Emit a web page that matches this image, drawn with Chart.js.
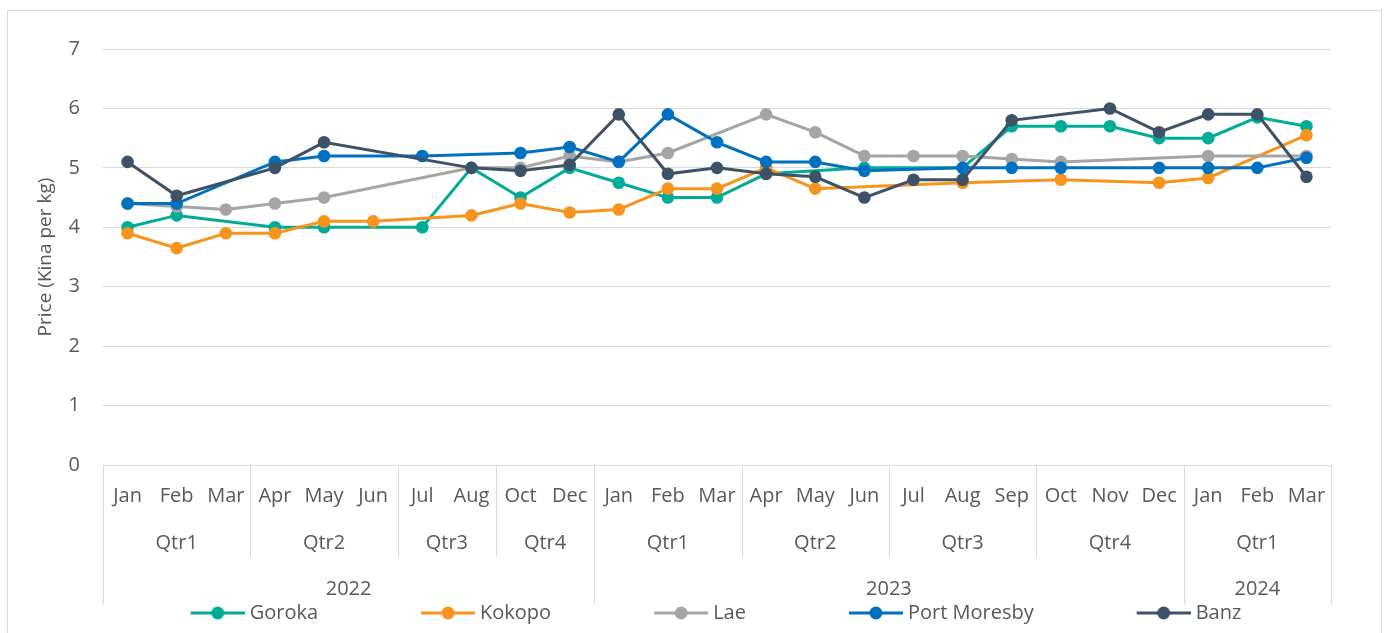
<!DOCTYPE html>
<html>
<head>
<meta charset="utf-8">
<script src="https://cdn.jsdelivr.net/npm/chart.js@4.4.1/dist/chart.umd.min.js"></script>
<style>
  html, body { margin: 0; padding: 0; background: #ffffff; }
  #wrap { position: relative; width: 1387px; height: 633px; }
</style>
</head>
<body>
<div id="wrap"><canvas id="c" width="1387" height="633"></canvas></div>
<script>
// ---- data ----
const months = ['Jan','Feb','Mar','Apr','May','Jun','Jul','Aug','Oct','Dec',
                'Jan','Feb','Mar','Apr','May','Jun','Jul','Aug','Sep','Oct','Nov','Dec',
                'Jan','Feb','Mar'];
const quarterLabels = ['Qtr1','Qtr2','Qtr3','Qtr4','Qtr1','Qtr2','Qtr3','Qtr4','Qtr1'];
const quarterSpans  = [3,3,2,2,3,3,3,3,3];
const yearLabels = ['2022','2023','2024'];
const yearSpans  = [10,12,3];
const yTicks = [0,1,2,3,4,5,6,7];

const seriesNames = ['Goroka','Kokopo','Lae','Port Moresby','Banz'];
const goroka      = [4.0,4.2,null,4.0,4.0,null,4.0,5.0,4.5,5.0, 4.75,4.5,4.5,4.9,null,5.0,null,5.0,5.7,5.7,5.7,5.5, 5.5,5.85,5.7];
const kokopo      = [3.9,3.65,3.9,3.9,4.1,4.1,null,4.2,4.4,4.25, 4.3,4.65,4.65,5.0,4.65,null,null,4.75,null,4.8,null,4.75, 4.83,null,5.55];
const lae         = [4.4,4.35,4.3,4.4,4.5,null,null,5.0,5.0,5.2, 5.1,5.25,null,5.9,5.6,5.2,5.2,5.2,5.15,5.1,null,null, 5.2,null,5.2];
const portMoresby = [4.4,4.4,null,5.1,5.2,null,5.2,null,5.25,5.35, 5.1,5.9,5.43,5.1,5.1,4.95,null,5.0,5.0,5.0,null,5.0, 5.0,5.0,5.17];
const banz        = [5.1,4.53,null,5.0,5.43,null,null,5.0,4.95,5.05, 5.9,4.9,5.0,4.9,4.85,4.5,4.8,4.8,5.8,null,6.0,5.6, 5.9,5.9,4.85];
const seriesColors = ['#00AC97','#F7941D','#A5A5A5','#0070C0','#3D5266'];
const allSeries = [goroka, kokopo, lae, portMoresby, banz];

// ---- styling ----
const FONT = "'Open Sans', 'Noto Sans', sans-serif";
const TXT = '#595959';
const GRID = '#d9d9d9';
const FS = 20;

function legendSymbol(color) {
  const c = document.createElement('canvas');
  c.width = 160; c.height = 16;
  const g = c.getContext('2d');
  g.strokeStyle = color; g.lineWidth = 3;
  g.beginPath(); g.moveTo(106, 8); g.lineTo(160, 8); g.stroke();
  g.fillStyle = color;
  g.beginPath(); g.arc(133, 8, 6.5, 0, Math.PI * 2); g.fill();
  return c;
}
const symbols = seriesColors.map(legendSymbol);

const frame = {
  id: 'frame',
  beforeDraw(chart) {
    const ctx = chart.ctx;
    ctx.save();
    ctx.fillStyle = '#ffffff';
    ctx.fillRect(0, 0, chart.width, chart.height);
    ctx.strokeStyle = GRID; ctx.lineWidth = 1;
    ctx.strokeRect(7.5, 10.5, 1374, 640);
    ctx.restore();
  }
};

const hierAxis = {
  id: 'hierAxis',
  afterDraw(chart) {
    const x = chart.scales.x, ctx = chart.ctx;
    const top = x.top;
    const edge = i => Math.round(x.getPixelForValue(i - 0.5)) + 0.5;
    ctx.save();
    ctx.strokeStyle = GRID; ctx.lineWidth = 1;
    let idx = 0;
    const qCenters = [];
    quarterSpans.forEach(s => {
      qCenters.push((x.getPixelForValue(idx - 0.5) + x.getPixelForValue(idx + s - 0.5)) / 2);
      idx += s;
      if (idx < months.length) { ctx.beginPath(); ctx.moveTo(edge(idx), top); ctx.lineTo(edge(idx), top + 92); ctx.stroke(); }
    });
    idx = 0;
    const yCenters = [];
    ctx.beginPath(); ctx.moveTo(edge(0), top); ctx.lineTo(edge(0), top + 139); ctx.stroke();
    yearSpans.forEach(s => {
      yCenters.push((x.getPixelForValue(idx - 0.5) + x.getPixelForValue(idx + s - 0.5)) / 2);
      idx += s;
      ctx.beginPath(); ctx.moveTo(edge(idx), top); ctx.lineTo(edge(idx), top + 139); ctx.stroke();
    });
    ctx.fillStyle = TXT;
    ctx.font = FS + 'px ' + FONT;
    ctx.textAlign = 'center'; ctx.textBaseline = 'middle';
    quarterLabels.forEach((t, i) => ctx.fillText(t, qCenters[i], top + 78));
    yearLabels.forEach((t, i) => ctx.fillText(t, yCenters[i], top + 124));
    ctx.restore();
  }
};

new Chart(document.getElementById('c'), {
  type: 'line',
  data: {
    labels: months,
    datasets: allSeries.map((d, i) => ({
      label: seriesNames[i],
      data: d,
      borderColor: seriesColors[i],
      backgroundColor: seriesColors[i],
      pointBackgroundColor: seriesColors[i],
      pointBorderColor: seriesColors[i],
      borderWidth: 3,
      pointRadius: 6.3,
      pointBorderWidth: 0,
      pointHoverRadius: 6.3,
      tension: 0,
      spanGaps: true,
      fill: false,
      order: allSeries.length - i
    }))
  },
  options: {
    responsive: false,
    animation: false,
    events: [],
    layout: { padding: { top: 49, right: 56, bottom: 0, left: 0 } },
    plugins: {
      tooltip: { enabled: false },
      legend: {
        position: 'bottom',
        labels: {
          usePointStyle: true,
          pointStyleWidth: 150,
          padding: 2,
          color: TXT,
          font: { family: FONT, size: FS },
          generateLabels(chart) {
            return chart.data.datasets.map((ds, i) => ({
              text: ds.label,
              datasetIndex: i,
              pointStyle: symbols[i],
              fillStyle: ds.borderColor,
              strokeStyle: ds.borderColor,
              lineWidth: 0,
              hidden: false,
              fontColor: TXT
            }));
          }
        }
      }
    },
    scales: {
      x: {
        type: 'category',
        offset: true,
        grid: { display: false, drawTicks: false },
        border: { display: false },
        ticks: { autoSkip: false, maxRotation: 0, minRotation: 0, padding: 19, color: TXT, font: { family: FONT, size: FS } },
        afterFit(scale) { scale.height = 136; }
      },
      y: {
        min: 0, max: 7,
        afterBuildTicks(scale) { scale.ticks = yTicks.map(v => ({ value: v })); },
        grid: { color: GRID, lineWidth: 1, drawTicks: false },
        border: { display: false },
        ticks: { padding: 23, color: TXT, font: { family: FONT, size: FS } },
        title: { display: true, text: 'Price (Kina per kg)', color: TXT, font: { family: FONT, size: 19 }, padding: { top: 34, bottom: 0 } },
        afterFit(scale) { scale.width = 103; }
      }
    }
  },
  plugins: [frame, hierAxis]
});
</script>
</body>
</html>
